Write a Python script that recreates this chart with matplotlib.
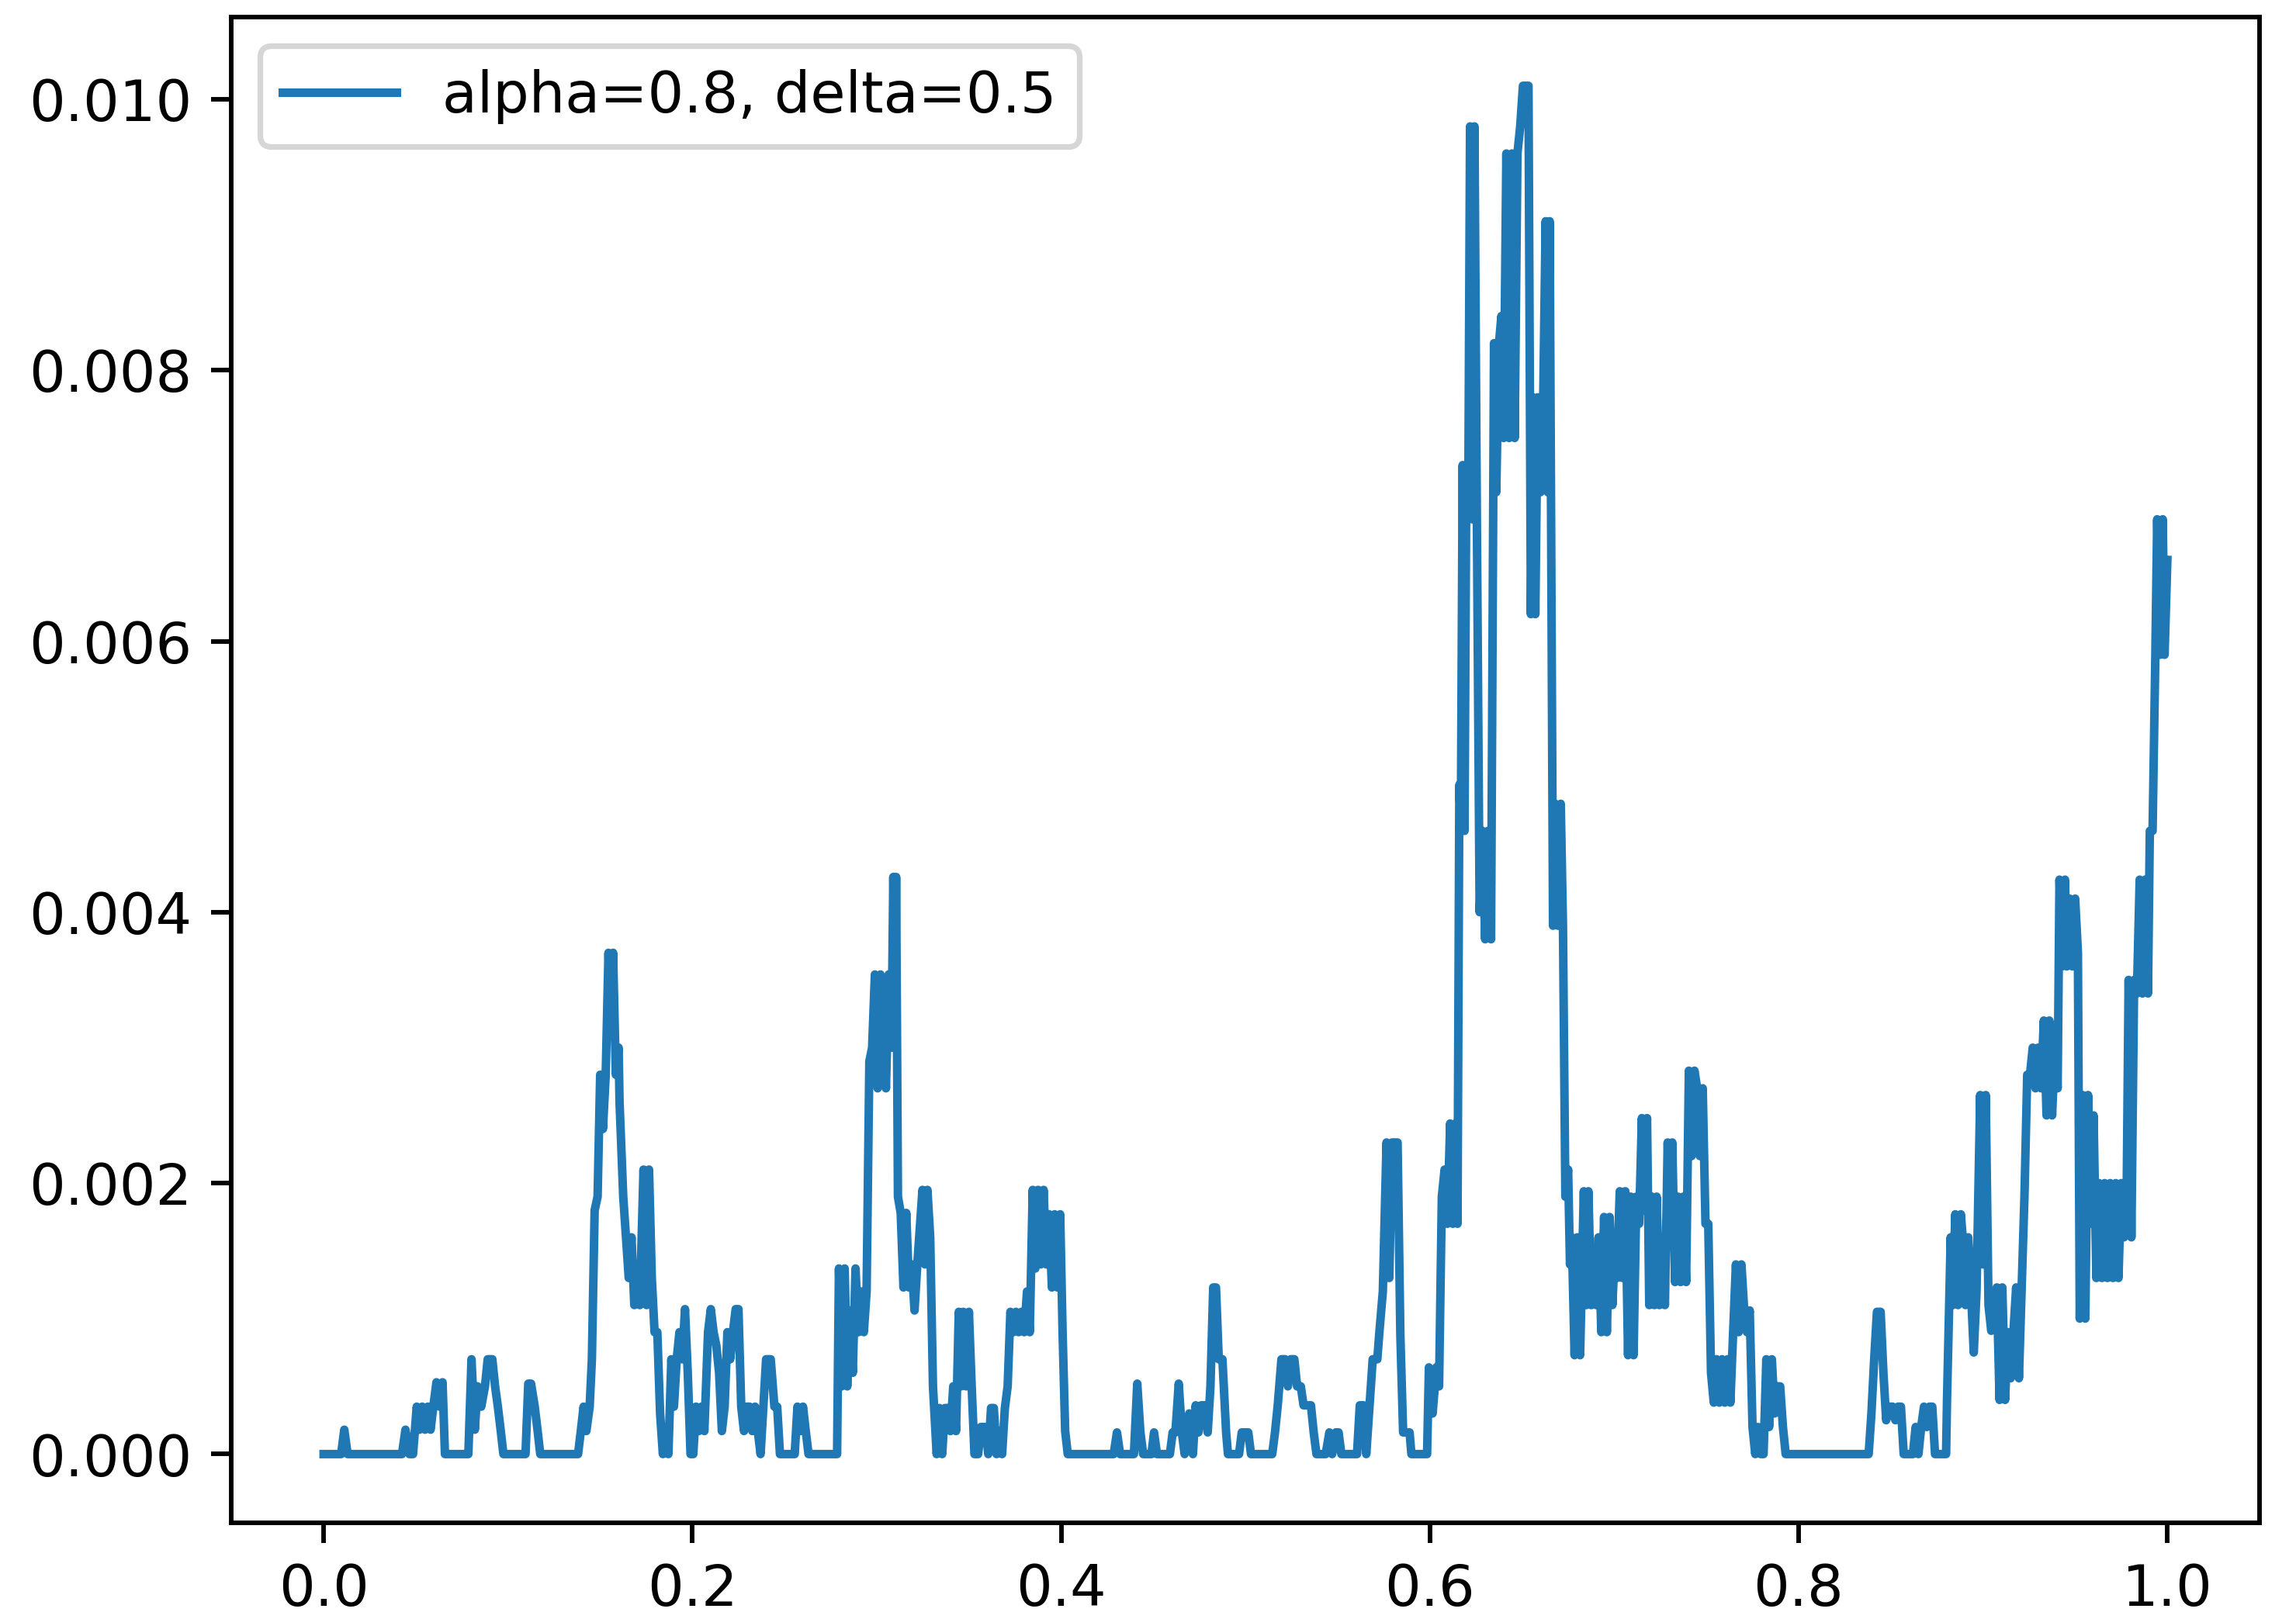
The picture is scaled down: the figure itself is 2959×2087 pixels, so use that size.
import matplotlib
matplotlib.use("Agg")
import matplotlib.pyplot as plt
import numpy as np

label = "alpha=0.8, delta=0.5"

# series, split in stretches along x
x1 = [0.0, 0.0095, 0.0112, 0.013, 0.0425, 0.0444, 0.0465, 0.0485, 0.0505, 0.052,
      0.0535, 0.055, 0.0565, 0.058, 0.0595, 0.0612, 0.063, 0.0645, 0.0658, 0.0785,
      0.0802, 0.082, 0.0835, 0.0855, 0.0875, 0.089, 0.0915, 0.093, 0.0945, 0.096,
      0.0975, 0.1095, 0.111, 0.1125, 0.1145, 0.116, 0.1175, 0.138]
y1 = [0, 0, 0.00018, 0, 0, 0.00018, 0, 0, 0.00035, 0.00018,
      0.00035, 0.00018, 0.00035, 0.00018, 0.00035, 0.00053, 0.00035, 0.00053, 0, 0,
      0.0007, 0.00018, 0.0005, 0.00035, 0.0005, 0.0007, 0.0007, 0.0005, 0.00035, 0.00018,
      0, 0, 0.00052, 0.00052, 0.00035, 0.00018, 0, 0]

x2 = [0.1395, 0.141, 0.1425, 0.1443, 0.1455, 0.147, 0.1486, 0.150, 0.1515, 0.153,
      0.1545, 0.1556, 0.157, 0.1585, 0.160, 0.1605, 0.1625, 0.164, 0.1655, 0.167,
      0.1685, 0.170, 0.1715, 0.1735, 0.1752, 0.1765, 0.178, 0.1795, 0.181, 0.1825,
      0.184, 0.1855, 0.187, 0.1886, 0.190, 0.1915, 0.193, 0.1945, 0.196, 0.1975,
      0.199, 0.2005, 0.202, 0.2035, 0.205, 0.2065, 0.2085, 0.210, 0.2115, 0.213,
      0.2145, 0.216, 0.2175, 0.219, 0.2205, 0.222, 0.2235, 0.225, 0.2265, 0.228,
      0.2295, 0.231, 0.2325, 0.234, 0.2355, 0.237, 0.2385, 0.240, 0.2425, 0.2445,
      0.246, 0.2475, 0.2555, 0.257, 0.2585, 0.260, 0.2615, 0.263, 0.2785]
y2 = [0.00017, 0.00035, 0.00017, 0.00035, 0.0007, 0.0018, 0.0019, 0.0028, 0.0024, 0.0028,
      0.0037, 0.0032, 0.0037, 0.0028, 0.0030, 0.0026, 0.0019, 0.0016, 0.0013, 0.0016,
      0.0011, 0.0014, 0.0011, 0.0021, 0.0011, 0.0021, 0.0013, 0.0009, 0.0009, 0.0003,
      0, 0.00017, 0, 0.0007, 0.00035, 0.0007, 0.0009, 0.0007, 0.00107, 0.0006,
      0, 0, 0.00035, 0.00017, 0.00035, 0.00017, 0.0009, 0.00107, 0.0009, 0.0008,
      0.0006, 0.00017, 0.00035, 0.0009, 0.0007, 0.0009, 0.00107, 0.00107, 0.00035, 0.00017,
      0.00035, 0.00035, 0.00017, 0.00035, 0.00017, 0, 0.00035, 0.0007, 0.0007, 0.00035,
      0.00035, 0, 0, 0.00035, 0.00017, 0.00035, 0.00017, 0, 0]

x3 = [0.2795, 0.281, 0.2826, 0.284, 0.2855, 0.287, 0.2885, 0.290, 0.2915, 0.293,
      0.2945, 0.296, 0.2975, 0.299, 0.3005, 0.302, 0.3035, 0.305, 0.3065, 0.308,
      0.309, 0.310, 0.3105, 0.3115, 0.313, 0.3145, 0.316, 0.3175, 0.319, 0.3205,
      0.322, 0.3248, 0.3262, 0.3275, 0.329, 0.3305, 0.3325, 0.334, 0.3355, 0.337,
      0.3385, 0.340, 0.3415, 0.343, 0.3445, 0.3458, 0.347, 0.3485, 0.350, 0.3515,
      0.353, 0.355, 0.3565, 0.359, 0.3605, 0.362, 0.3635, 0.365, 0.3665, 0.368,
      0.3695, 0.371, 0.3725, 0.374, 0.3755, 0.377, 0.3785, 0.380, 0.3815, 0.383,
      0.3846, 0.386, 0.3875, 0.389, 0.3905, 0.392, 0.3935, 0.395, 0.3965, 0.398,
      0.3995, 0.4008, 0.4022, 0.4036]
y3 = [0.00137, 0.0005, 0.00137, 0.0005, 0.00106, 0.0006, 0.00137, 0.0009, 0.0012, 0.0009,
      0.0012, 0.0029, 0.003, 0.00354, 0.0027, 0.00354, 0.0031, 0.0027, 0.00354, 0.003,
      0.00426, 0.003, 0.00426, 0.0019, 0.00178, 0.00123, 0.00178, 0.00123, 0.0014, 0.00106,
      0.0014, 0.00195, 0.0014, 0.00195, 0.0016, 0.0005, 0, 0.00034, 0, 0.00034,
      0.00034, 0.00017, 0.0005, 0.00017, 0.00105, 0.0005, 0.00105, 0.0005, 0.00105, 0.0005,
      0, 0, 0.0002, 0.0002, 0, 0.00034, 0.00034, 0, 0.00017, 0,
      0.00034, 0.0005, 0.00105, 0.0009, 0.00105, 0.0009, 0.00105, 0.0009, 0.0012, 0.0009,
      0.00195, 0.00137, 0.00195, 0.0014, 0.00195, 0.0014, 0.00177, 0.00123, 0.00177, 0.00123,
      0.00177, 0.0009, 0.00017, 0]

x4 = [0.4285, 0.4303, 0.432, 0.4395, 0.4413, 0.443, 0.4445, 0.449, 0.4504, 0.452,
      0.459, 0.4605, 0.462, 0.4638, 0.4655, 0.467, 0.4695, 0.4715, 0.473, 0.4745,
      0.476, 0.478, 0.4795, 0.481, 0.4825, 0.484, 0.4855, 0.4875, 0.4895, 0.4905,
      0.4965, 0.498, 0.5015, 0.503, 0.5145, 0.516, 0.5175, 0.5195, 0.5215, 0.523,
      0.5245, 0.5265, 0.528, 0.530, 0.5315, 0.5355, 0.537, 0.5385, 0.5435, 0.5455,
      0.547, 0.549, 0.5505, 0.552, 0.5605, 0.562, 0.564, 0.5655, 0.567, 0.569,
      0.5715, 0.5725, 0.5745, 0.5765, 0.578, 0.5795, 0.5825, 0.584, 0.5855, 0.589,
      0.590, 0.5985]
y4 = [0, 0.00016, 0, 0, 0.00052, 0.00016, 0, 0, 0.00016, 0,
      0, 0.00016, 0.00016, 0.00052, 0.00016, 0, 0.0003, 0, 0.00036, 0.00016,
      0.00036, 0.00036, 0.00016, 0.0005, 0.00123, 0.00123, 0.0007, 0.0007, 0.00016, 0,
      0, 0.00016, 0.00016, 0, 0, 0.00016, 0.00036, 0.0007, 0.0007, 0.0005,
      0.0007, 0.0007, 0.0005, 0.0005, 0.00036, 0.00036, 0.00016, 0, 0, 0.00016,
      0, 0.00016, 0.00016, 0, 0, 0.00036, 0.00036, 0, 0.0003, 0.0007,
      0.0007, 0.00088, 0.0012, 0.0023, 0.0013, 0.0023, 0.0023, 0.00088, 0.00016, 0.00016,
      0, 0]

x5 = [0.5995, 0.6015, 0.6035, 0.605, 0.6065, 0.608, 0.6095, 0.611, 0.6125, 0.6138,
      0.615, 0.616, 0.6168, 0.6178, 0.6188, 0.6198, 0.6208, 0.6218, 0.623, 0.6242,
      0.6255, 0.627, 0.6285, 0.630, 0.6315, 0.6332, 0.6348, 0.636, 0.6375, 0.6388,
      0.640, 0.6415, 0.643, 0.6445, 0.646, 0.6475, 0.649, 0.6505, 0.652, 0.6535,
      0.6548, 0.656, 0.6572, 0.6585, 0.660, 0.6615, 0.6628, 0.664, 0.665, 0.6668,
      0.668, 0.6695, 0.671, 0.6722, 0.6735, 0.675, 0.676, 0.677]
y5 = [0.00064, 0.0003, 0.00064, 0.0005, 0.0019, 0.0021, 0.0017, 0.00244, 0.0017, 0.00244,
      0.0017, 0.00494, 0.0046, 0.0073, 0.0046, 0.0073, 0.0069, 0.0098, 0.0069, 0.0098,
      0.0069, 0.004, 0.0046, 0.0038, 0.0046, 0.0038, 0.0082, 0.0071, 0.0082, 0.0084,
      0.0075, 0.0096, 0.0075, 0.0096, 0.0075, 0.0096, 0.0098, 0.0101, 0.0101, 0.0101,
      0.0062, 0.0078, 0.0062, 0.0078, 0.0071, 0.0078, 0.0091, 0.0071, 0.0091, 0.0039,
      0.0048, 0.0039, 0.0048, 0.0039, 0.0019, 0.0021, 0.0014, 0.0016]

x6 = [0.6785, 0.680, 0.6815, 0.6835, 0.6848, 0.686, 0.6875, 0.689, 0.6903, 0.6915,
      0.693, 0.6945, 0.696, 0.6975, 0.699, 0.700, 0.7015, 0.703, 0.7045, 0.706,
      0.7075, 0.709, 0.7105, 0.712, 0.7135, 0.715, 0.7163, 0.7178, 0.719, 0.7205,
      0.7218, 0.723, 0.7245, 0.726, 0.7275, 0.729, 0.7303, 0.7315, 0.733, 0.7345,
      0.736, 0.7375, 0.739, 0.7405, 0.742, 0.7435, 0.745, 0.7465, 0.748, 0.7495,
      0.751, 0.7525, 0.754, 0.7555, 0.757, 0.7585, 0.760, 0.7615, 0.763, 0.7645,
      0.766, 0.7675, 0.769, 0.7705, 0.772, 0.7735, 0.775, 0.7765, 0.778, 0.7795,
      0.781, 0.7825, 0.784, 0.7855, 0.787, 0.7885, 0.790, 0.7915, 0.793, 0.838,
      0.8395, 0.841, 0.8425, 0.8445, 0.846, 0.8475, 0.849, 0.851, 0.8525, 0.854,
      0.8555, 0.857, 0.862, 0.8635, 0.865, 0.8665, 0.868, 0.8695, 0.871, 0.8725,
      0.874, 0.880]
y6 = [0.00073, 0.0016, 0.00073, 0.00194, 0.0011, 0.00194, 0.0011, 0.0014, 0.0011, 0.0016,
      0.0009, 0.00175, 0.0009, 0.00175, 0.0011, 0.0014, 0.0013, 0.00194, 0.0013, 0.00194,
      0.00073, 0.0019, 0.00073, 0.0019, 0.0017, 0.00248, 0.0018, 0.00248, 0.0011, 0.0019,
      0.0011, 0.0019, 0.0011, 0.0016, 0.0011, 0.0023, 0.0016, 0.0023, 0.00127, 0.0019,
      0.00127, 0.0019, 0.00127, 0.00283, 0.0022, 0.00283, 0.0027, 0.0022, 0.0027, 0.0017,
      0.0017, 0.0006, 0.00038, 0.0007, 0.00038, 0.0007, 0.00038, 0.0007, 0.00038, 0.0009,
      0.0014, 0.0009, 0.0014, 0.00106, 0.0009, 0.00106, 0.0002, 0, 0.0002, 0,
      0, 0.0007, 0.0002, 0.0007, 0.0003, 0.0005, 0.0005, 0.0002, 0, 0,
      0.0003, 0.0007, 0.00105, 0.00105, 0.0006, 0.00025, 0.00035, 0.00035, 0.00025, 0.00035,
      0.00035, 0, 0, 0.0002, 0, 0.0002, 0.00035, 0.0002, 0.00035, 0.00035,
      0, 0]

x7 = [0.8805, 0.8825, 0.8835, 0.885, 0.8865, 0.888, 0.889, 0.8905, 0.892, 0.8935,
      0.895, 0.8965, 0.8985, 0.900, 0.9015, 0.903, 0.9045, 0.906, 0.9075, 0.909,
      0.9105, 0.912, 0.9135, 0.915, 0.9165, 0.918, 0.9195, 0.921, 0.9225, 0.924,
      0.9255, 0.927, 0.9285, 0.930, 0.9315, 0.933, 0.9345, 0.936, 0.9375, 0.939,
      0.9405, 0.9415, 0.943, 0.9445, 0.9455, 0.947, 0.9485, 0.950, 0.9515, 0.9525,
      0.954, 0.9555, 0.957, 0.9585, 0.960, 0.9615, 0.963, 0.9645, 0.966, 0.9675,
      0.969, 0.9705, 0.972, 0.9735, 0.975, 0.9765, 0.978, 0.979, 0.9805, 0.982,
      0.9835, 0.985, 0.9865, 0.988, 0.9895, 0.9905, 0.992, 0.9935, 0.9945, 0.996,
      0.9975, 0.9985, 1.0]
y7 = [0.0004, 0.0016, 0.0011, 0.00177, 0.0011, 0.00177, 0.0016, 0.0011, 0.0016, 0.0012,
      0.00075, 0.0012, 0.00265, 0.0014, 0.00265, 0.0011, 0.00091, 0.00108, 0.00123, 0.0004,
      0.00123, 0.0004, 0.0009, 0.00056, 0.0009, 0.00123, 0.00056, 0.00123, 0.0019, 0.0028,
      0.0028, 0.003, 0.0027, 0.003, 0.0027, 0.0032, 0.0025, 0.0032, 0.0025, 0.003,
      0.0027, 0.00424, 0.0036, 0.00424, 0.0036, 0.0041, 0.0036, 0.0041, 0.0037, 0.001,
      0.00265, 0.001, 0.00265, 0.0017, 0.0025, 0.0013, 0.002, 0.0013, 0.002, 0.0013,
      0.002, 0.0013, 0.002, 0.0013, 0.002, 0.0016, 0.002, 0.0035, 0.0016, 0.0035,
      0.0034, 0.00424, 0.0034, 0.00424, 0.0034, 0.0046, 0.0046, 0.0059, 0.0069, 0.0059,
      0.0069, 0.0059, 0.0066]

xs = [x1, x2, x3, x4, x5, x6, x7]
ys = [y1, y2, y3, y4, y5, y6, y7]
for a, b in zip(xs, ys):
    assert len(a) == len(b), (len(a), len(b))
x = np.concatenate(xs)
y = np.concatenate(ys)

fig = plt.figure(figsize=(5.6, 3.95), dpi=528.4)
ax = fig.add_axes([0.1008, 0.0596, 0.8833, 0.9296])
ax.plot(x, y, label=label)
ax.legend(loc='upper left')

fig.savefig("out.png", dpi=528.4)
